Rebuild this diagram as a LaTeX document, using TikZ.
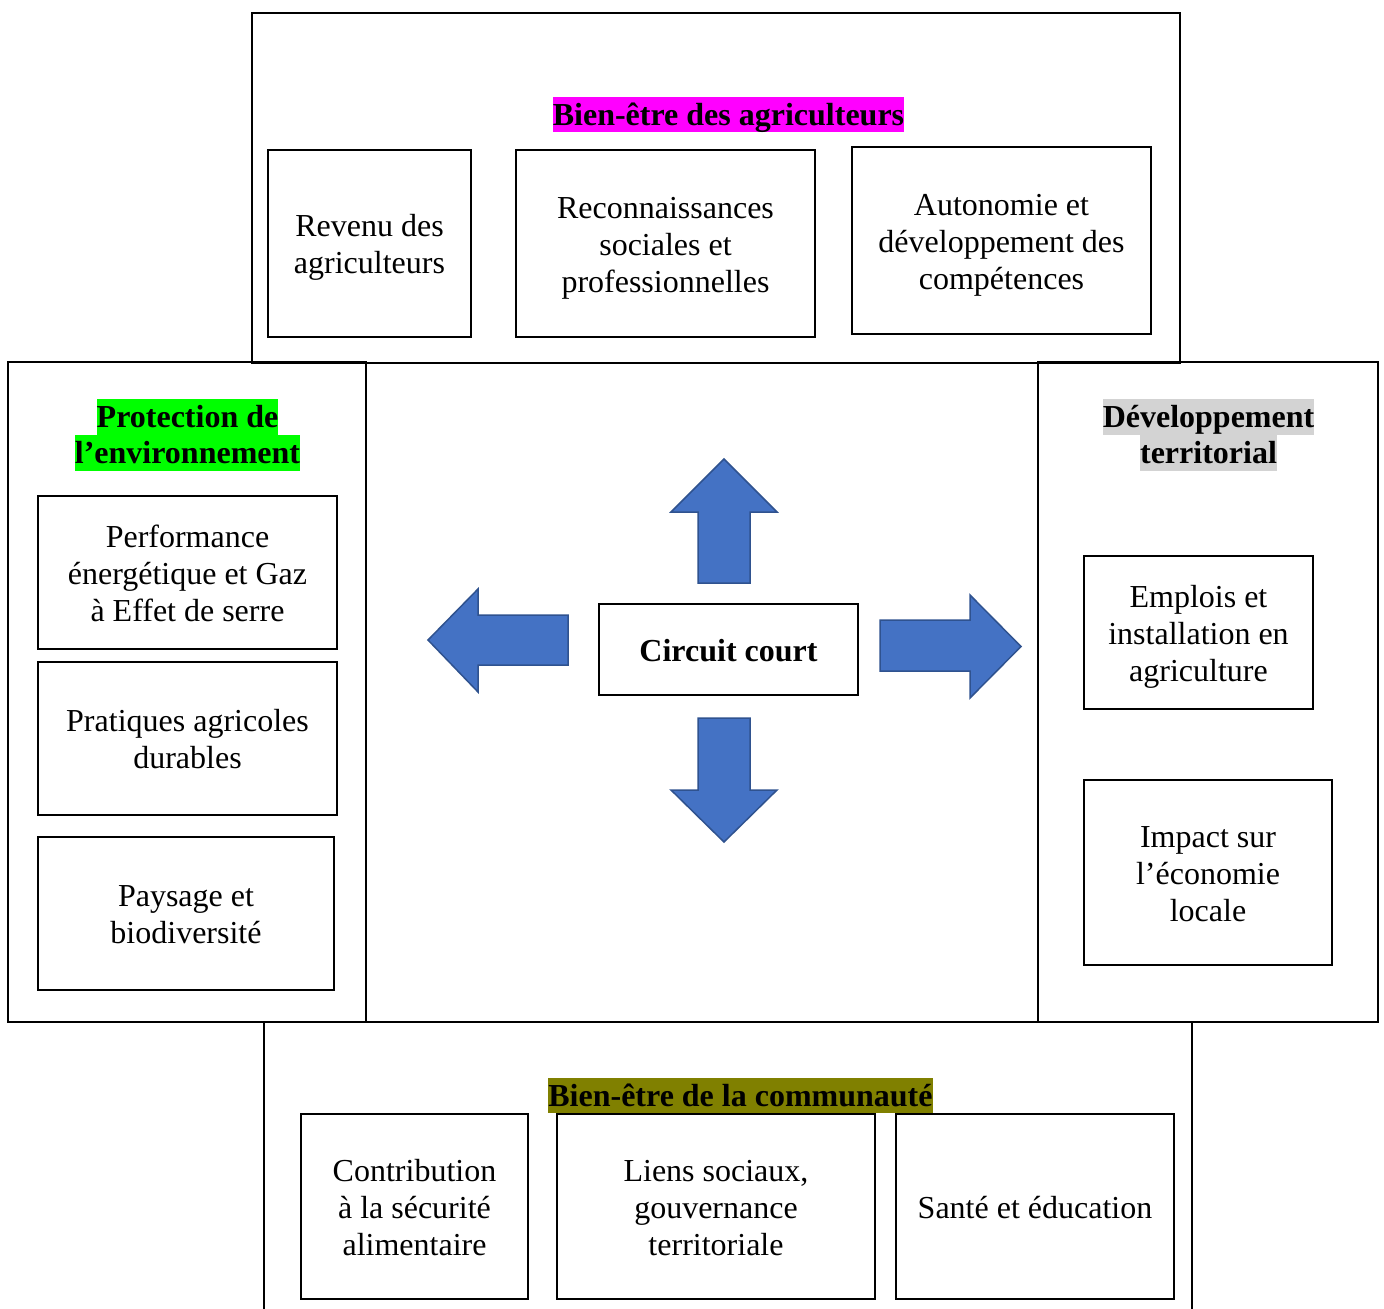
\documentclass[tikz,border=0pt]{standalone}
\usepackage{fontspec}
\setmainfont{Liberation Serif}
\definecolor{hlmag}{HTML}{FF00FF}
\definecolor{hlgreen}{HTML}{00FF00}
\definecolor{hlgray}{HTML}{D3D3D3}
\definecolor{hlolive}{HTML}{808000}
\definecolor{arrowblue}{HTML}{4472C4}
\definecolor{arrowedge}{HTML}{2F528F}
\newcommand\hlt[2]{{\setlength{\fboxsep}{0pt}\colorbox{#1}{\rule[-7pt]{0pt}{35.5pt}#2}}}
\newcommand\ms{\rule[-7pt]{0pt}{37pt}}
\begin{document}
\begin{tikzpicture}[x=1pt,y=-1pt]
\tikzset{
 big/.style={draw, line width=2pt},
 item/.style={draw, line width=2.2pt, inner sep=0pt, align=center, font=\fontsize{32}{37}\selectfont},
 head/.style={inner sep=0pt, align=center, font=\bfseries\fontsize{32}{36}\selectfont},
 blockarrow/.style={fill=arrowblue, draw=arrowedge, line width=1.5pt, line join=miter},
}
\useasboundingbox (0,0) rectangle (1384,1309);
\fill[white] (0,0) rectangle (1384,1309);

% big frames
\draw[big] (252,13) rectangle (1180,363);
\draw[big] (8,362) rectangle (366,1022);
\draw[big] (1038,362) rectangle (1378,1022);
\draw[big] (264,1309) -- (264,1022) -- (1192,1022) -- (1192,1309);

% top group
\node[head] (htop) at (728.5,114.5) {\hlt{hlmag}{Bien-être des agriculteurs}};
\node[item, minimum width=203pt, minimum height=187pt] (revenu) at (369.5,243.5) {\ms Revenu des\\\ms agriculteurs};
\node[item, minimum width=299pt, minimum height=187pt] (recon) at (665.5,243.5) {\ms Reconnaissances\\\ms sociales et\\\ms professionnelles};
\node[item, minimum width=299pt, minimum height=187pt] (auto) at (1001.5,240.5) {\ms Autonomie et\\\ms développement des\\\ms compétences};

% left group
\node[head] (hleft) at (187.5,435) {\hlt{hlgreen}{Protection de}\\\hlt{hlgreen}{l’environnement}};
\node[item, minimum width=299pt, minimum height=153pt] (perf) at (187.5,572.5) {\ms Performance\\\ms énergétique et Gaz\\\ms à Effet de serre};
\node[item, minimum width=299pt, minimum height=153pt] (prat) at (187.5,738.5) {\ms Pratiques agricoles\\\ms durables};
\node[item, minimum width=296pt, minimum height=153pt] (pays) at (186,913.5) {\ms Paysage et\\\ms biodiversité};

% right group
\node[head] (hright) at (1208.5,435) {\hlt{hlgray}{Développement}\\\hlt{hlgray}{territorial}};
\node[item, minimum width=229pt, minimum height=153pt] (empl) at (1198.5,632.5) {\ms Emplois et\\\ms installation en\\\ms agriculture};
\node[item, minimum width=248pt, minimum height=185pt] (impact) at (1208,872.5) {\ms Impact sur\\\ms l’économie\\\ms locale};

% bottom group
\node[head] (hbot) at (740.5,1095.5) {\hlt{hlolive}{Bien-être de la communauté}};
\node[item, minimum width=227pt, minimum height=185pt] (contrib) at (414.5,1206.5) {\ms Contribution\\\ms à la sécurité\\\ms alimentaire};
\node[item, minimum width=318pt, minimum height=185pt] (liens) at (716,1206.5) {\ms Liens sociaux,\\\ms gouvernance\\\ms territoriale};
\node[item, minimum width=278pt, minimum height=185pt] (sante) at (1035,1206.5) {\ms Santé et éducation};

% center
\node[item, minimum width=259pt, minimum height=91pt, font=\bfseries\fontsize{32}{37}\selectfont] (cc) at (728.5,649.5) {\ms Circuit court};

% block arrows
\draw[blockarrow] (698,583) -- (698,512) -- (671,512) -- (724,459) -- (777,512) -- (750,512) -- (750,583) -- cycle;
\draw[blockarrow] (698,718) -- (698,790) -- (671,790) -- (724,842) -- (777,790) -- (750,790) -- (750,718) -- cycle;
\draw[blockarrow] (568,615) -- (478,615) -- (478,589) -- (428,640) -- (478,692) -- (478,665) -- (568,665) -- cycle;
\draw[blockarrow] (880,620) -- (970,620) -- (970,595) -- (1021,646.5) -- (970,698) -- (970,671) -- (880,671) -- cycle;
\end{tikzpicture}
\end{document}
